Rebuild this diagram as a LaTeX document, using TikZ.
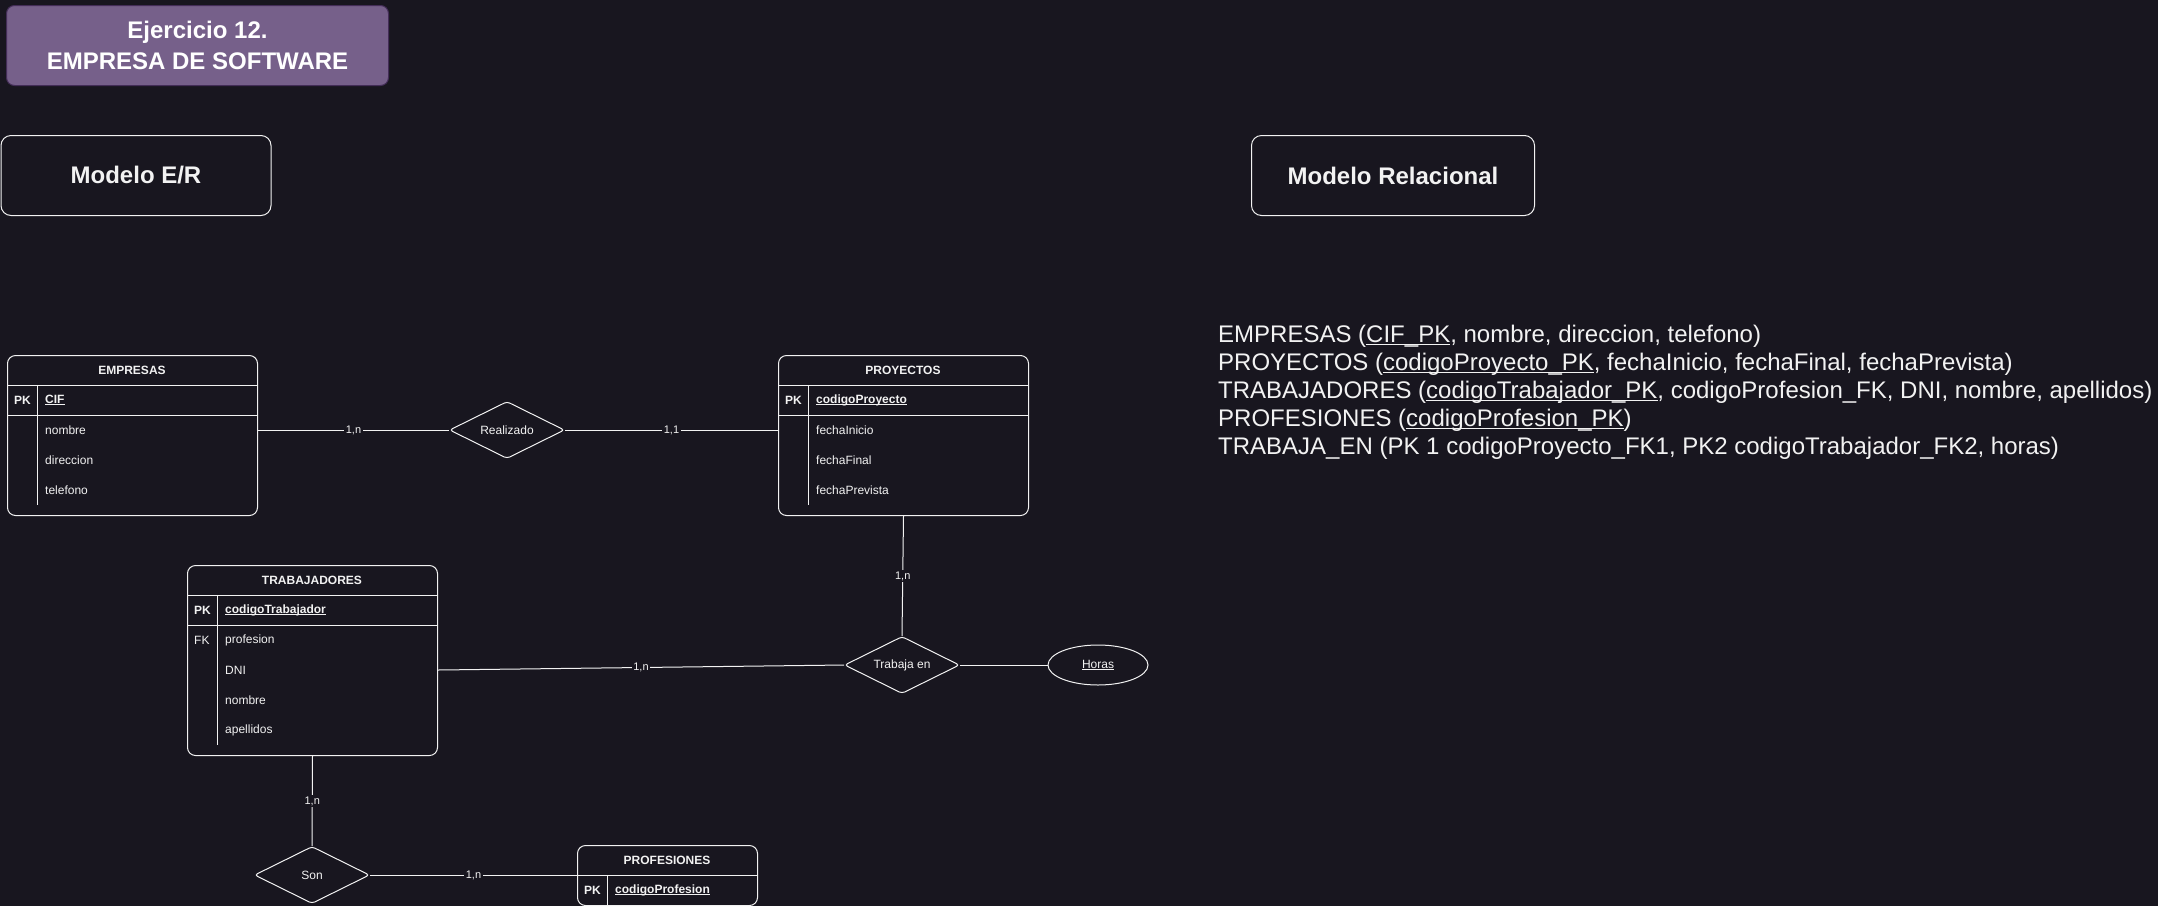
\documentclass[tikz,border=0pt]{standalone}
\usepackage{fontspec}
\setmainfont{Liberation Sans}
\usetikzlibrary{shapes.geometric}

\definecolor{fondo}{HTML}{18161F}
\definecolor{morado}{HTML}{76608A}
\definecolor{moradoborde}{HTML}{432D57}
\definecolor{blanco}{HTML}{F2F2F2}

% subrayado fino pegado a la linea base
\newcommand{\subraya}[1]{\setbox0=\hbox{#1}\rlap{\rule[-0.13em]{\wd0}{0.06em}}\box0}

\tikzset{
  titulo/.style={fill=morado, draw=moradoborde, line width=1pt, rounded corners=8pt, anchor=north west, align=center, minimum width=382pt, minimum height=80pt, text=white, font=\fontsize{24}{31}\selectfont\bfseries},
  modelo/.style={draw=blanco, line width=1pt, rounded corners=10pt, anchor=north west, minimum height=80pt, text=blanco, font=\fontsize{24}{29}\selectfont\bfseries},
  tabla/.style={draw=blanco, line width=1pt, rounded corners=8pt, anchor=north west, inner sep=0pt},
  cabecera/.style={text=blanco, font=\fontsize{12}{14}\selectfont\bfseries},
  campo/.style={text=blanco, anchor=west, inner sep=0pt, font=\fontsize{12}{14}\selectfont},
  clave/.style={campo, font=\fontsize{12}{14}\selectfont\bfseries},
  relacion/.style={diamond, aspect=2, draw=blanco, line width=1pt, rounded corners=3pt, inner sep=0pt, minimum width=115pt, minimum height=57pt, text=blanco, font=\fontsize{12}{14}\selectfont},
  atributo/.style={ellipse, draw=blanco, line width=1pt, inner sep=0pt, minimum width=100pt, minimum height=40pt, text=blanco, font=\fontsize{12}{14}\selectfont},
  conector/.style={draw=blanco, line width=1pt},
  etiqueta/.style={fill=fondo, inner sep=1.5pt, text=blanco, font=\fontsize{11}{13}\selectfont},
  relacional/.style={anchor=base west, inner sep=0pt, text=blanco, font=\fontsize{24}{28}\selectfont}
}

\begin{document}
\begin{tikzpicture}[x=1pt, y=-1pt]
  \fill[fondo] (0,0) rectangle (2158,906);
  \useasboundingbox (0,0) rectangle (2158,906);

  % titulo y cabeceras de los modelos
  \node[titulo] (titulo) at (6,5) {Ejercicio 12.\\EMPRESA DE SOFTWARE};
  \node[modelo, minimum width=270pt] (modeloer) at (0.5,135) {Modelo E/R};
  \node[modelo, minimum width=283pt] (modelorel) at (1251,135) {Modelo Relacional};

  % EMPRESAS
  \node[tabla, minimum width=250pt, minimum height=160pt] (empresas) at (7,355) {};
  \draw[conector] (7,385) -- (257,385) (7,415) -- (257,415) (37,385) -- (37,505);
  \node[cabecera] (empresas-tit) at (132,370) {EMPRESAS};
  \node[clave] (empresas-pk) at (14,400) {PK};
  \node[clave] (empresas-cif) at (45,400) {\subraya{CIF}};
  \foreach \c [count=\i] in {nombre, direccion, telefono}
    \node[campo] (empresas-\i) at (45,400+30*\i) {\c};

  % PROYECTOS
  \node[tabla, minimum width=250pt, minimum height=160pt] (proyectos) at (778,355) {};
  \draw[conector] (778,385) -- (1028,385) (778,415) -- (1028,415) (808,385) -- (808,505);
  \node[cabecera] (proyectos-tit) at (903,370) {PROYECTOS};
  \node[clave] (proyectos-pk) at (785,400) {PK};
  \node[clave] (proyectos-cod) at (816,400) {\subraya{codigoProyecto}};
  \foreach \c [count=\i] in {fechaInicio, fechaFinal, fechaPrevista}
    \node[campo] (proyectos-\i) at (816,400+30*\i) {\c};

  % TRABAJADORES
  \node[tabla, minimum width=250pt, minimum height=190pt] (trabajadores) at (187,565) {};
  \draw[conector] (187,595) -- (437,595) (187,625) -- (437,625) (217,595) -- (217,745);
  \node[cabecera] (trabajadores-tit) at (312,580) {TRABAJADORES};
  \node[clave] (trabajadores-pk) at (194,610) {PK};
  \node[clave] (trabajadores-cod) at (225,610) {\subraya{codigoTrabajador}};
  \node[campo] (trabajadores-fk) at (194,640) {FK};
  \foreach \c [count=\i] in {profesion, DNI, nombre, apellidos}
    \node[campo] (trabajadores-\i) at (225,610+30*\i) {\c};

  % PROFESIONES
  \node[tabla, minimum width=180pt, minimum height=60pt] (profesiones) at (577,845) {};
  \draw[conector] (577,875) -- (757,875) (607,875) -- (607,905);
  \node[cabecera] (profesiones-tit) at (667,860) {PROFESIONES};
  \node[clave] (profesiones-pk) at (584,890) {PK};
  \node[clave] (profesiones-cod) at (615,890) {\subraya{codigoProfesion}};

  % relaciones y atributo
  \node[relacion] (realizado) at (507,430) {Realizado};
  \node[relacion] (trabajaen) at (902,665) {Trabaja en};
  \node[relacion] (son) at (312,875) {Son};
  \node[atributo] (horas) at (1098,665) {\subraya{Horas}};

  % conectores con cardinalidades
  \draw[conector] (empresas.east |- realizado) -- node[etiqueta] (card-er) {1,n} (realizado.west);
  \draw[conector] (realizado.east) -- node[etiqueta] (card-rp) {1,1} (realizado.east -| proyectos.west);
  \draw[conector] (proyectos.south) -- node[etiqueta] (card-pt) {1,n} (trabajaen.north);
  \draw[conector] (trabajadores.east |- trabajadores-2) -- node[etiqueta] (card-tt) {1,n} (trabajaen.west);
  \draw[conector] (trabajaen.east) -- (horas.west);
  \draw[conector] (trabajadores.south) -- node[etiqueta] (card-ts) {1,n} (son.north);
  \draw[conector] (son.east) -- node[etiqueta] (card-sp) {1,n} (son.east -| profesiones.west);

  % modelo relacional
  \node[relacional] (rel-empresas) at (1218,342) {EMPRESAS (\subraya{CIF\_PK}, nombre, direccion, telefono)};
  \node[relacional] (rel-proyectos) at (1218,370) {PROYECTOS (\subraya{codigoProyecto\_PK}, fechaInicio, fechaFinal, fechaPrevista)};
  \node[relacional] (rel-trabajadores) at (1218,398) {TRABAJADORES (\subraya{codigoTrabajador\_PK}, codigoProfesion\_FK, DNI, nombre, apellidos)};
  \node[relacional] (rel-profesiones) at (1218,426) {PROFESIONES (\subraya{codigoProfesion\_PK})};
  \node[relacional] (rel-trabajaen) at (1218,454) {TRABAJA\_EN (PK 1 codigoProyecto\_FK1, PK2 codigoTrabajador\_FK2, horas)};
\end{tikzpicture}
\end{document}
